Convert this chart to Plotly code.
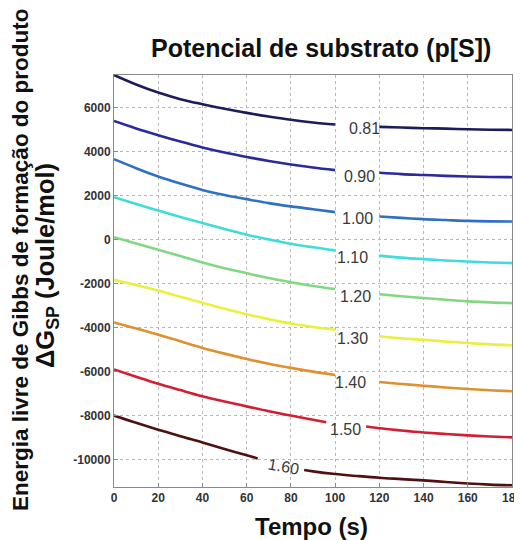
import plotly.graph_objects as go

# ---------------- data ----------------
tempo = [0, 10, 20, 30, 40, 50, 60, 70, 80, 90, 100, 110, 120, 130, 140, 150, 160, 170, 180]
tempo_150 = [0, 10, 20, 30, 40, 50, 60, 70, 80, 90, 96, 105, 114, 120, 130, 140, 150, 160, 170, 180]
tempo_160 = [0, 10, 20, 30, 40, 50, 60, 65, 76, 86, 90, 100, 110, 120, 130, 140, 150, 160, 170, 180]

niveis = ["0.81", "0.90", "1.00", "1.10", "1.20", "1.30", "1.40", "1.50", "1.60"]

g_081 = [7500, 7070, 6700, 6400, 6170, 5960, 5775, 5610, 5460, 5340, 5250, None, 5140, 5110, 5080, 5060, 5030, 5010, 5000]
g_090 = [5410, 5070, 4760, 4470, 4200, 3970, 3770, 3590, 3430, 3290, 3170, None, 3050, 2990, 2950, 2910, 2880, 2860, 2850]
g_100 = [3670, 3260, 2880, 2560, 2270, 2040, 1850, 1670, 1520, 1390, 1260, None, 1060, 1000, 940, 900, 860, 840, 830]
g_110 = [1940, 1630, 1330, 1040, 760, 490, 230, 20, -180, -340, -480, None, -720, -810, -880, -940, -990, -1030, -1060]
g_120 = [120, -170, -450, -740, -1030, -1290, -1520, -1740, -1930, -2100, -2240, None, -2480, -2570, -2650, -2730, -2800, -2850, -2880]
g_130 = [-1820, -2060, -2310, -2590, -2870, -3140, -3390, -3610, -3810, -3970, -4090, None, -4390, -4480, -4550, -4630, -4700, -4760, -4800]
g_140 = [-3760, -4040, -4320, -4620, -4920, -5180, -5420, -5640, -5830, -6000, -6150, None, -6470, -6560, -6640, -6720, -6790, -6850, -6890]
g_150 = [-5900, -6230, -6550, -6840, -7120, -7360, -7580, -7800, -8000, -8190, -8300, None, -8500, -8580, -8680, -8770, -8840, -8900, -8950, -8990]
g_160 = [-8000, -8330, -8640, -8940, -9220, -9520, -9810, -9950, None, -10480, -10540, -10660, -10750, -10830, -10890, -10950, -11020, -11090, -11140, -11170]

x_ticks = [0, 20, 40, 60, 80, 100, 120, 140, 160, 180]
y_ticks = [-10000, -8000, -6000, -4000, -2000, 0, 2000, 4000, 6000]

# label anchor positions (time, energy) for the contour-style labels
rotulo_t = [113.5, 111, 110, 108, 109, 108, 107, 104.5, 76.5]
rotulo_g = [5080, 2880, 950, -800, -2580, -4470, -6490, -8640, -10320]
rotulo_ang = [0, 0, 0, 0, 0, 0, 0, 0, 10]

# ---------------- styling ----------------
cores = ["#1c1c5c", "#2a2a9c", "#3070c4", "#3fdcdc", "#82d882",
         "#eaf03c", "#e0902e", "#d21e30", "#501010"]

series = [(tempo, g_081), (tempo, g_090), (tempo, g_100), (tempo, g_110), (tempo, g_120),
          (tempo, g_130), (tempo, g_140), (tempo_150, g_150), (tempo_160, g_160)]

fig = go.Figure()
for (tx, gy), cor, nome in zip(series, cores, niveis):
    fig.add_trace(go.Scatter(
        x=tx, y=gy, mode="lines", name=nome,
        line=dict(color=cor, width=2.6, shape="spline", smoothing=1.0),
        connectgaps=False, hoverinfo="x+y+name",
    ))

for t, g, a, txt in zip(rotulo_t, rotulo_g, rotulo_ang, niveis):
    fig.add_annotation(x=t, y=g, xref="x", yref="y", text=txt, showarrow=False,
                       textangle=a, xanchor="center", yanchor="middle",
                       font=dict(family="Liberation Sans, Arial", size=16, color="#3a3a3a"))

FONT = "Liberation Sans, Arial, sans-serif"
OFF = 8                      # page body margin of the HTML page
L, R, T, B = 106, 10, 67, 53
W, H = 514, 532
pw, ph = W - L - R, H - T - B
PX0 = L + OFF                # screen x of plot left edge
PYB = T + OFF + ph           # screen y of plot bottom edge


def px(x):
    return (x - PX0) / pw


def py(y):
    return (PYB - y) / ph


fig.add_annotation(xref="paper", yref="paper", x=px(321), y=py(48),
                   text="<b>Potencial de substrato (p[S])</b>", showarrow=False,
                   xanchor="center", yanchor="middle",
                   font=dict(family=FONT, size=25, color="#111"))
fig.add_annotation(xref="paper", yref="paper", x=px(311), y=py(526),
                   text="<b>Tempo (s)</b>", showarrow=False,
                   xanchor="center", yanchor="middle",
                   font=dict(family=FONT, size=24, color="#111"))
fig.add_annotation(xref="paper", yref="paper", x=px(20), y=py(260),
                   text="<b>Energia livre de Gibbs de formação do produto</b>", showarrow=False,
                   textangle=-90, xanchor="center", yanchor="middle",
                   font=dict(family=FONT, size=22.5, color="#111"))
fig.add_annotation(xref="paper", yref="paper", x=px(47), y=py(266),
                   text="<b>ΔG<sub>SP</sub> (Joule/mol)</b>", showarrow=False,
                   textangle=-90, xanchor="center", yanchor="middle",
                   font=dict(family=FONT, size=25.5, color="#111"))

axis_common = dict(
    showgrid=True, gridcolor="#b8b8b8", griddash="dot", gridwidth=1,
    showline=True, linecolor="#8a8a8a", linewidth=1, mirror=True,
    ticks="inside", ticklen=4, tickcolor="#8a8a8a",
    zeroline=False,
    tickfont=dict(family=FONT, size=12, color="#333", weight="bold"),
)

fig.update_xaxes(range=[0, 180], tickmode="array", tickvals=x_ticks,
                 ticktext=[str(v) for v in x_ticks], ticklabeloverflow="allow",
                 **axis_common)
fig.update_yaxes(range=[-11250, 7500], tickmode="array", tickvals=y_ticks,
                 ticktext=[str(v) for v in y_ticks], **axis_common)

fig.update_layout(
    width=W, height=H,
    margin=dict(l=L, r=R, t=T, b=B, autoexpand=False),
    paper_bgcolor="white", plot_bgcolor="white",
    showlegend=False,
    font=dict(family=FONT),
)

fig.write_html("out.html")
